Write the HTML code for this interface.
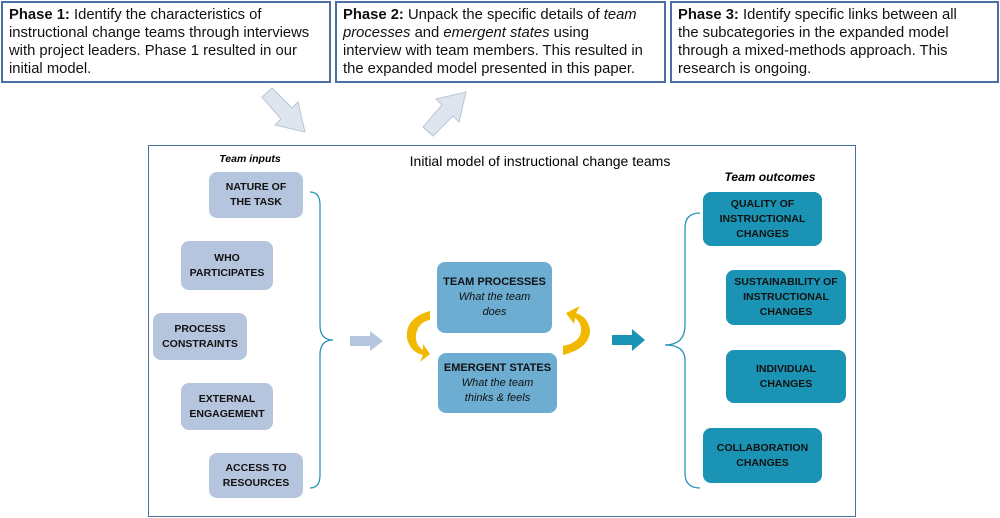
<!DOCTYPE html>
<html><head><meta charset="utf-8"><style>
body{margin:0;width:1000px;height:518px;background:#fff;position:relative;overflow:hidden;font-family:"Liberation Sans",sans-serif}
.pb{position:absolute;top:1px;height:82px;border:2px solid #4a6fa5;box-sizing:border-box;padding:3px 6px;font-size:14.8px;line-height:18px;color:#111;white-space:nowrap}
.bx{position:absolute;border-radius:8px;display:flex;align-items:center;justify-content:center;text-align:center;font-weight:bold;font-size:10.5px;line-height:15px;color:#111}
.in{background:#b6c5de}
.out{background:#1a93b4}
.mid{background:#6cadd1;font-size:11px}
</style></head><body>
<div class="pb" style="left:1px;width:330px"><b>Phase 1:</b> Identify the characteristics of<br>instructional change teams through interviews<br>with project leaders. Phase 1 resulted in our<br>initial model.</div>
<div class="pb" style="left:335px;width:331px"><b>Phase 2:</b> Unpack the specific details of <i>team</i><br><i>processes</i> and <i>emergent states</i> using<br>interview with team members. This resulted in<br>the expanded model presented in this paper.</div>
<div class="pb" style="left:670px;width:329px"><b>Phase 3:</b> Identify specific links between all<br>the subcategories in the expanded model<br>through a mixed-methods approach. This<br>research is ongoing.</div>
<div style="position:absolute;left:148px;top:145px;width:708px;height:372px;border:1.5px solid #4a6fa5;box-sizing:border-box"></div>
<div style="position:absolute;left:380px;top:153px;width:320px;text-align:center;font-size:14px">Initial model of instructional change teams</div>
<div style="position:absolute;left:200px;top:153px;width:100px;text-align:center;font-size:10.5px;font-style:italic;font-weight:bold">Team inputs</div>
<div style="position:absolute;left:700px;top:170px;width:140px;text-align:center;font-size:12px;font-style:italic;font-weight:bold">Team outcomes</div>
<div class="bx in" style="left:209px;top:172px;width:94px;height:46px">NATURE OF<br>THE TASK</div>
<div class="bx in" style="left:181px;top:241px;width:92px;height:49px">WHO<br>PARTICIPATES</div>
<div class="bx in" style="left:153px;top:313px;width:94px;height:47px">PROCESS<br>CONSTRAINTS</div>
<div class="bx in" style="left:181px;top:383px;width:92px;height:47px">EXTERNAL<br>ENGAGEMENT</div>
<div class="bx in" style="left:209px;top:453px;width:94px;height:45px">ACCESS TO<br>RESOURCES</div>
<div class="bx mid" style="left:437px;top:262px;width:115px;height:71px;font-weight:normal"><div><b>TEAM PROCESSES</b><br><i>What the team<br>does</i></div></div>
<div class="bx mid" style="left:438px;top:353px;width:119px;height:60px;font-weight:normal"><div><b>EMERGENT STATES</b><br><i>What the team<br>thinks &amp; feels</i></div></div>
<div class="bx out" style="left:703px;top:192px;width:119px;height:54px">QUALITY OF<br>INSTRUCTIONAL<br>CHANGES</div>
<div class="bx out" style="left:726px;top:270px;width:120px;height:55px">SUSTAINABILITY OF<br>INSTRUCTIONAL<br>CHANGES</div>
<div class="bx out" style="left:726px;top:350px;width:120px;height:53px">INDIVIDUAL<br>CHANGES</div>
<div class="bx out" style="left:703px;top:428px;width:119px;height:55px">COLLABORATION<br>CHANGES</div>
<svg width="1000" height="518" style="position:absolute;left:0;top:0">
<g fill="none" stroke="#2a95b8" stroke-width="1.3">
<path d="M310 192 Q320 192 320 205 L320 325 Q320 340 333 340 Q320 340 320 355 L320 475 Q320 488 310 488"/>
<path d="M700 213 Q685 213 685 228 L685 325 Q685 345 665 345 Q685 345 685 360 L685 473 Q685 488 700 488"/>
</g>
<polygon points="350,336 370,336 370,331 383,341 370,351 370,346 350,346" fill="#b6c5de"/>
<polygon points="612,335 632,335 632,329 645,340 632,351 632,345 612,345" fill="#1a93b4"/>
<g fill="#dfe5ee" stroke="#b8c6da" stroke-width="1">
<polygon points="262,97 272,88 292,108 298,102 305,132 275,125 281,119"/>
<polygon points="423,127 433,136 453,116 459,122 466,92 436,99 442,105"/>
</g>
<g fill="#f2b800">
<path d="M430 311 Q405 318 407 338 Q410 352 423 355 L420 362 L430 354 L423 344 L423 350 Q415 345 416 335 Q418 322 430 320 Z"/>
<path d="M563 355 Q590 348 590 330 Q588 317 576 313 L580 306 L566 313 L574 324 L575 318 Q582 323 581 332 Q579 343 563 346 Z"/>
</g>
</svg>
</body></html>
